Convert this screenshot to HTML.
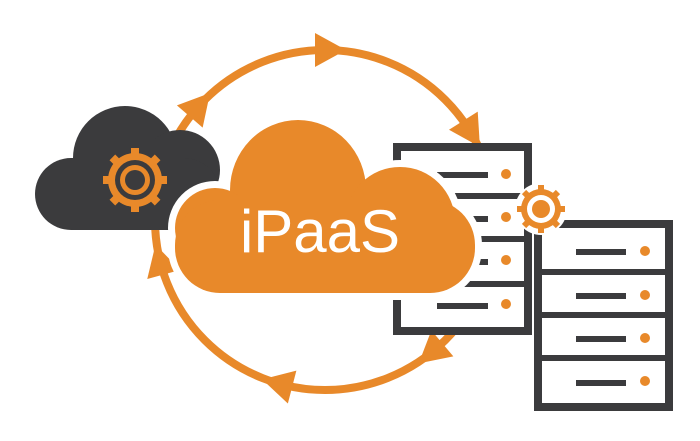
<!DOCTYPE html>
<html><head><meta charset="utf-8"><style>html,body{margin:0;padding:0;background:#fff}svg{display:block}</style></head>
<body>
<svg width="700" height="441" viewBox="0 0 700 441" xmlns="http://www.w3.org/2000/svg">
<g fill="#e8892a">
<circle cx="325" cy="220" r="170" fill="none" stroke="#e8892a" stroke-width="8"/>
<polygon points="346,50 315,33 315,67"/>
<polygon points="346,50 315,33 315,67" transform="rotate(57.7 325 220)"/>
<polygon points="346,50 315,33 315,67" transform="rotate(139.8 325 220)"/>
<polygon points="346,50 315,33 315,67" transform="rotate(194.5 325 220)"/>
<polygon points="346,50 315,33 315,67" transform="rotate(254.7 325 220)"/>
<polygon points="346,50 315,33 315,67" transform="rotate(310.8 325 220)"/>
</g>
<!-- dark cloud -->
<g fill="#3b3b3d">
<circle cx="125" cy="158" r="52"/>
<circle cx="180" cy="170" r="40"/>
<rect x="35" y="158" width="185" height="72" rx="36"/>
</g>
<!-- gear 1 -->
<g transform="translate(135,180)">
<g fill="#e8892a">
<circle r="27"/>
<g id="t"><rect x="-4" y="-32" width="8" height="10"/><rect x="-4" y="22" width="8" height="10"/></g>
<use href="#t" transform="rotate(45)"/><use href="#t" transform="rotate(90)"/><use href="#t" transform="rotate(135)"/>
</g>
<circle r="20" fill="#3b3b3d"/><circle r="15" fill="#e8892a"/><circle r="10" fill="#3b3b3d"/>
</g>
<!-- server 1 -->
<g>
<rect x="397" y="147" width="131" height="184" fill="#fff" stroke="#3b3b3d" stroke-width="8"/>
<g fill="#3b3b3d"><rect x="400" y="193" width="128" height="6"/><rect x="400" y="236" width="128" height="6"/><rect x="400" y="281" width="128" height="6"/>
<rect x="437" y="172" width="51" height="6"/><rect x="437" y="216" width="51" height="6"/><rect x="437" y="259" width="51" height="6"/><rect x="437" y="303" width="51" height="6"/></g>
<g fill="#e8892a"><circle cx="506" cy="174" r="5"/><circle cx="506" cy="217" r="5"/><circle cx="506" cy="260" r="5"/><circle cx="506" cy="304" r="5"/></g>
</g>
<!-- orange cloud with white outline -->
<g fill="#fff" stroke="#fff" stroke-width="14">
<ellipse cx="298" cy="190" rx="68" ry="70"/><circle cx="400" cy="222" r="55"/><circle cx="215" cy="228" r="40"/>
<rect x="175" y="200" width="300" height="93" rx="45"/>
</g>
<g fill="#e8892a">
<ellipse cx="298" cy="190" rx="68" ry="70"/><circle cx="400" cy="222" r="55"/><circle cx="215" cy="228" r="40"/>
<rect x="175" y="200" width="300" height="93" rx="45"/>
</g>
<text x="320" y="252" text-anchor="middle" font-family="Liberation Sans, sans-serif" font-size="60" fill="#fff">iPaaS</text>
<!-- server 2 -->
<g>
<rect x="538" y="224" width="131" height="183" fill="#fff" stroke="#3b3b3d" stroke-width="8"/>
<g fill="#3b3b3d"><rect x="540" y="269" width="128" height="6"/><rect x="540" y="312" width="128" height="6"/><rect x="540" y="355" width="128" height="6"/>
<rect x="576" y="249" width="50" height="6"/><rect x="576" y="293" width="50" height="6"/><rect x="576" y="336" width="50" height="6"/><rect x="576" y="380" width="50" height="6"/></g>
<g fill="#e8892a"><circle cx="645" cy="251" r="5"/><circle cx="645" cy="295" r="5"/><circle cx="645" cy="338" r="5"/><circle cx="645" cy="381" r="5"/></g>
</g>
<!-- gear 2 -->
<g transform="translate(541,209)">
<circle r="26" fill="#fff"/>
<g fill="#e8892a">
<circle r="20"/>
<g id="t2"><rect x="-3" y="-24" width="6" height="7"/><rect x="-3" y="17" width="6" height="7"/></g>
<use href="#t2" transform="rotate(45)"/><use href="#t2" transform="rotate(90)"/><use href="#t2" transform="rotate(135)"/>
</g>
<circle r="14" fill="#fff"/><circle r="9" fill="#e8892a"/>
</g>
</svg>
</body></html>
